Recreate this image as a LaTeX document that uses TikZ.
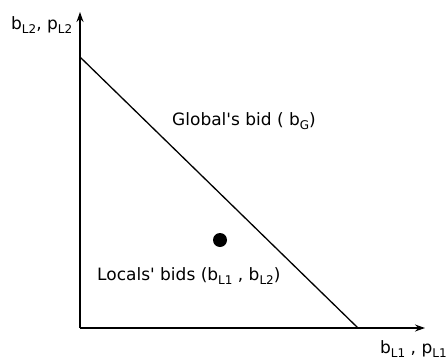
\documentclass[tikz,border=0pt]{standalone}
\usepackage{fontspec}
\setmainfont{DejaVu Sans}
\usetikzlibrary{arrows.meta,positioning}
\newcommand{\lsub}[1]{\raisebox{-4pt}{\fontsize{12}{13}\selectfont #1}}

\begin{document}
\begin{tikzpicture}[
  x=1pt, y=1pt,
  font=\fontsize{17}{19}\selectfont,
  ax/.style={-{Stealth[length=10pt,width=7pt]}, line width=1.4pt},
  bidline/.style={line width=1.3pt},
  lbl/.style={inner sep=0pt, anchor=base west}
]
\useasboundingbox (0,0) rectangle (447,360);
% axes
\coordinate (O) at (80,32);
\coordinate (ytip) at (80,348);
\coordinate (xtip) at (425,32);
\draw[ax] (O) -- (ytip);
\draw[ax] (O) -- (xtip);
% global bid line
\coordinate (gtop) at (80,303);
\coordinate (gbot) at (358,32);
\draw[bidline] (gtop) -- (gbot);
% locals' bid point
\node[circle, fill=black, minimum size=14pt, inner sep=0pt] (bid) at (220,120) {};
% labels
\node[lbl] (ylab) at (11,331) {b\lsub{L2}, p\lsub{L2}};
\node[lbl] (xlab) at (380,7) {b\lsub{L1} , p\lsub{L1}};
\node[lbl] (glab) at (172,235) {Global\textquotesingle s bid ( b\lsub{G})};
\node[lbl] (llab) at (97,80) {Locals\textquotesingle\ bids (b\lsub{L1} , b\lsub{L2})};
\end{tikzpicture}
\end{document}
